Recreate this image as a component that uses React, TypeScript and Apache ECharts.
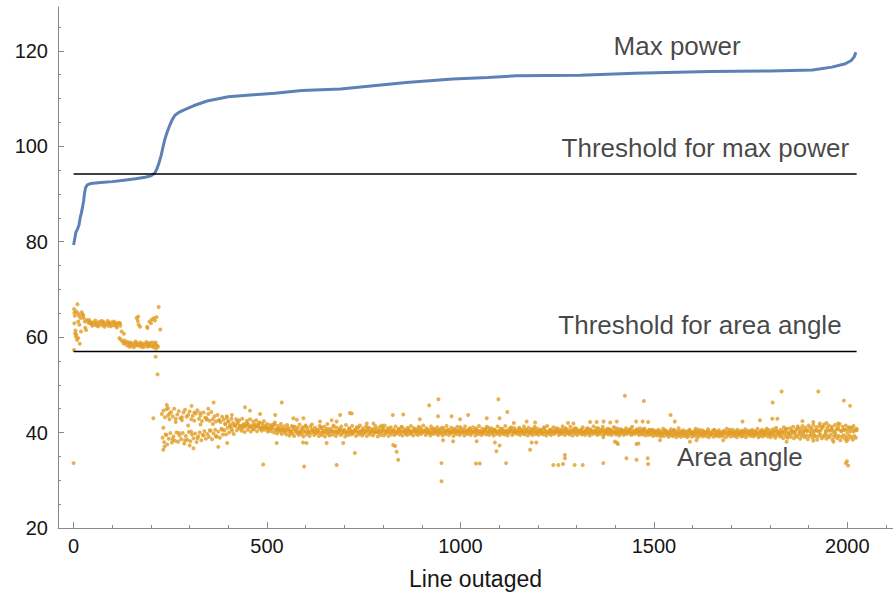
import React, { useEffect, useRef } from "react";
import * as echarts from "echarts";

const FONT = '"Liberation Sans", Arial, sans-serif';
const BLUE = "#5E81B5";
const ORANGE = "#E19C24";
const AXIS = "#8a8a8a";
const TEXT = "#161616";

// Axis extent (x: index of the outaged line, y: value)
const X_MIN = -40.3;
const X_MAX = 2118;
const Y_MIN = 20;
const Y_MAX = 129.2;

const xMajorTicks = [0, 500, 1000, 1500, 2000];
const xMinorTicks = [100, 200, 300, 400, 600, 700, 800, 900, 1100, 1200, 1300, 1400, 1600, 1700, 1800, 1900, 2100];
const yMajorTicks = [20, 40, 60, 80, 100, 120];
const yMinorTicks = [25, 30, 35, 45, 50, 55, 65, 70, 75, 85, 90, 95, 105, 110, 115, 125];

// Max power, sorted ascending over the outaged lines
const maxPower: [number, number][] = [
  [0, 79.3], [2, 80.2], [6, 82.0], [10, 82.6], [14, 83.5], [17, 85.0], [20, 86.0], [23, 87.2],
  [26, 88.6], [28, 90.0], [31, 91.3], [35, 91.9], [45, 92.2], [70, 92.4], [100, 92.6], [130, 92.9],
  [160, 93.2], [185, 93.5], [200, 93.8], [210, 94.4], [216, 95.4], [221, 96.6], [226, 98.0],
  [231, 99.8], [236, 101.5], [242, 103.0], [248, 104.3], [255, 105.6], [262, 106.5], [272, 107.1],
  [290, 107.8], [310, 108.5], [345, 109.5], [400, 110.4], [465, 110.8], [520, 111.1], [590, 111.7],
  [690, 112.0], [775, 112.7], [860, 113.4], [980, 114.1], [1070, 114.4], [1145, 114.8], [1310, 114.9],
  [1450, 115.3], [1645, 115.7], [1800, 115.8], [1910, 116.0], [1960, 116.6], [1995, 117.3],
  [2010, 118.0], [2018, 118.8], [2022, 119.7],
];

// Area angle for the first outaged lines (before the jump in max power)
const areaAngleEarly: [number, number][] = [
  [0, 33.6], [1, 57.3], [1, 65.9], [2, 65.1], [3, 64.5], [2, 62.9], [4, 60.8], [7, 60.5], [6, 60.1],
  [12, 59.8], [16, 58.6], [10, 66.9], [7, 65.4], [11, 65.0], [14, 64.5], [18, 64.0], [12, 63.3],
  [21, 65.2], [23, 64.8], [25, 64.6], [26, 64.0], [29, 63.3], [32, 61.5], [30, 62.0], [34, 63.6],
  [38, 63.0], [42, 63.3], [46, 62.8], [50, 63.1], [54, 62.6], [58, 63.0], [62, 62.7], [66, 63.2],
  [70, 62.8], [74, 62.5], [78, 63.0], [82, 62.6], [86, 62.9], [90, 62.4], [94, 62.8], [98, 63.1],
  [102, 62.5], [106, 62.8], [110, 62.3], [113, 62.7], [117, 63.0], [121, 62.4], [124, 61.2],
  [130, 60.7], [118, 59.8], [122, 59.5], [126, 59.1], [130, 58.6], [134, 58.9], [138, 58.3],
  [142, 58.7], [146, 58.5], [150, 58.1], [154, 58.6], [158, 58.3], [162, 58.8], [166, 58.2],
  [170, 58.5], [174, 58.0], [178, 58.7], [182, 58.3], [186, 58.6], [190, 58.0], [194, 58.4],
  [198, 58.8], [202, 58.2], [206, 57.9], [210, 58.5], [213, 57.6], [216, 58.2], [167, 64.3],
  [166, 63.4], [172, 62.2], [191, 61.9], [196, 63.3], [202, 63.7], [208, 64.0], [215, 64.2],
  [220, 66.3], [224, 61.6], [212, 55.9], [217, 52.2], [163, 64.0], [168, 62.6], [190, 62.2],
  [200, 62.9], [210, 63.5],
  [40, 63.6], [48, 62.4], [56, 63.5], [64, 62.3], [72, 63.4], [80, 62.2], [88, 63.4], [96, 62.3],
  [104, 63.3], [112, 62.0], [120, 62.9], [44, 62.9], [60, 62.4], [76, 63.3], [92, 63.0], [108, 63.0],
  [132, 59.3], [140, 59.0], [148, 58.9], [156, 57.9], [164, 58.4], [172, 58.9], [180, 57.9],
  [188, 59.0], [196, 58.1], [204, 58.9], [212, 58.9], [218, 58.0], [144, 58.0], [160, 59.1],
  [176, 58.2], [192, 58.7], [208, 58.3], [5, 61.4], [9, 59.4], [19, 61.2], [15, 62.6],
];

const bandStep = 4;

// Area angle, dense band: values for lines 228, 232, 236, ...
const bandStartA = 228;
const areaBandA = [
  43.9, 44.6, 43.2, 44.9, 43.6, 42.8, 44.3, 43.4, 45.0, 42.9,
  43.8, 44.5, 43.0, 42.6, 44.2, 44.8, 43.3, 43.7, 44.4, 42.8,
  43.5, 42.5, 44.0, 44.7, 42.9, 43.6, 42.4, 44.2, 43.1, 42.7,
  43.9, 42.5, 44.3, 42.8, 43.4, 42.3, 43.7, 42.6, 42.2, 43.3,
  42.7, 41.8, 43.1, 42.3, 41.6, 42.9, 42.0, 41.5, 42.8, 41.9,
  42.6, 41.4, 42.9, 41.8, 41.3, 42.5, 41.7, 42.8, 41.2, 42.3,
  41.7, 42.6, 41.2, 42.0, 41.0, 41.9, 42.4, 41.1, 41.8, 40.9,
  41.6, 40.8, 41.7, 42.1, 40.7, 41.4, 40.6, 41.8, 40.5, 41.3,
  40.6, 41.6, 40.9, 40.4, 41.4, 40.7, 41.2, 40.3, 41.0, 41.7,
  40.5, 41.1, 40.3, 41.5, 40.8, 40.2, 41.3, 41.7, 40.4, 41.0,
  40.6, 40.2, 41.4, 40.9, 40.3, 41.2, 40.5, 41.8, 40.2, 40.8,
  40.4, 41.5, 40.3, 41.0, 40.1, 40.7, 41.3, 40.3, 40.6, 41.6,
  40.2, 40.8, 40.5, 41.4, 40.1, 40.6, 41.1, 40.3, 41.5, 40.4,
  40.9, 40.2, 41.3, 40.5, 41.0, 40.1, 40.7, 40.3, 41.4, 40.8,
  40.3, 41.2, 40.2, 40.6, 41.5, 40.4, 40.9, 40.1, 41.1, 40.3,
  40.6, 41.3, 40.2, 40.8, 40.4, 41.2, 40.3, 40.7, 40.1, 41.0,
  40.5, 41.4, 40.3, 40.9, 40.2, 40.7, 41.2, 40.3, 40.6, 41.5,
  40.3, 40.9, 40.2, 40.6, 41.3, 40.2, 40.8, 40.5, 41.1, 40.3,
  40.7, 40.2, 40.9, 40.4, 41.4, 40.5, 40.2, 41.0, 40.6, 40.1,
  40.5, 41.2, 40.2, 40.8, 40.3, 40.7, 41.3, 40.1, 40.5, 40.9,
  40.3, 41.1, 40.2, 40.6, 40.4, 41.4, 40.1, 40.8, 40.3, 40.7,
  41.2, 40.2, 40.5, 40.9, 40.1, 40.6, 40.3, 41.3, 40.4, 40.2,
  40.8, 40.3, 41.4, 40.5, 40.1, 40.7, 41.1, 40.2, 40.9, 40.4,
  40.3, 40.8, 40.1, 40.6, 41.3, 40.3, 40.5, 41.0, 40.2, 40.7,
  40.4, 41.2, 40.2, 40.8, 40.3, 40.6, 40.1, 40.9, 40.4, 41.4,
  40.2, 40.6, 40.3, 41.1, 40.4, 40.1, 40.8, 40.3, 40.6, 41.3,
  40.3, 40.9, 40.2, 40.5, 41.2, 40.1, 40.7, 40.3, 40.8, 40.4,
  40.2, 40.6, 41.1, 40.3, 40.5, 40.9, 40.1, 40.7, 40.3, 41.3,
  40.4, 40.2, 40.9, 40.3, 40.6, 41.2, 40.2, 40.5, 40.8, 40.1,
  40.6, 40.3, 41.1, 40.2, 40.5, 40.8, 40.3, 40.7, 40.1, 40.4,
  40.9, 40.3, 40.6, 40.2, 41.2, 40.4, 40.1, 40.7, 40.3, 40.9,
  40.2, 40.5, 40.8, 40.3, 40.1, 40.6, 40.2, 40.5, 40.0, 40.4,
  40.1, 40.6, 39.9, 40.3, 40.8, 40.0, 40.4, 39.8, 40.2, 40.7,
  40.0, 40.4, 39.9, 40.3, 40.9, 39.8, 40.2, 40.5, 40.0, 40.3,
  39.9, 40.6, 40.1, 39.8, 40.3, 40.8, 40.0, 40.2, 39.9, 40.5,
  40.3, 39.9, 40.1, 40.7, 40.0, 39.8, 40.4, 40.6, 39.9, 40.2,
  40.5, 40.0, 39.8, 40.3, 40.1, 40.8, 39.9, 40.3, 40.0, 40.6,
  39.9, 40.2, 40.6, 40.0, 40.3, 39.8, 40.1, 40.7, 40.0, 40.4,
  40.1, 39.9, 40.5, 40.0, 40.3, 40.8, 39.9, 40.2, 40.6, 40.0,
  40.3, 40.8, 40.0, 40.5, 39.9, 40.7, 40.1, 41.0, 40.3, 40.0,
  40.6, 40.1, 41.1, 40.3, 40.8, 39.9, 40.9, 40.4, 41.2, 40.1,
  40.7, 41.3, 40.2, 40.8, 41.4, 40.3, 41.0, 40.5, 41.5, 40.2,
  40.8, 41.6, 40.4, 41.1, 40.3, 41.4, 40.6, 41.2, 41.7, 40.4,
  41.0, 41.5, 40.5, 41.2, 40.3, 41.6, 40.7, 41.1, 41.8, 40.4,
  41.2, 40.6, 41.5, 40.7, 41.1, 40.3, 40.9, 41.4, 40.5, 40.8,
];

// Area angle, dense band: values for lines 230, 234, 238, ...
const bandStartB = 230;
const areaBandB = [
  38.9, 38.0, 39.6, 37.5, 38.7, 39.9, 37.9, 39.2, 38.3, 40.0,
  38.1, 39.4, 38.6, 39.9, 37.7, 39.3, 38.5, 40.1, 38.2, 39.6,
  38.8, 39.8, 38.0, 39.2, 40.0, 38.4, 39.5, 40.3, 38.7, 39.7,
  39.1, 40.4, 38.6, 39.8, 40.6, 39.2, 40.2, 38.9, 40.8, 39.6,
  40.5, 39.6, 41.0, 40.0, 41.3, 40.4, 39.7, 41.4, 40.5, 40.9,
  41.4, 40.4, 41.0, 40.1, 41.6, 40.6, 41.2, 40.2, 41.5, 40.7,
  41.2, 40.3, 41.5, 40.8, 40.4, 41.3, 40.6, 41.0, 40.2, 40.9,
  40.3, 41.0, 40.0, 40.6, 39.8, 40.8, 40.2, 39.7, 40.6, 40.0,
  39.6, 40.4, 39.4, 40.2, 39.8, 39.3, 40.3, 39.9, 39.5, 40.1,
  39.7, 39.2, 40.2, 39.6, 40.0, 39.3, 39.9, 40.4, 39.5, 39.8,
  40.1, 39.3, 39.9, 39.5, 40.3, 39.2, 40.0, 39.7, 39.4, 40.2,
  39.6, 40.1, 39.3, 39.9, 40.3, 39.5, 39.8, 40.2, 39.2, 40.0,
  39.5, 40.1, 39.6, 39.8, 40.3, 39.3, 40.0, 39.6, 40.2, 39.4,
  39.8, 40.1, 39.3, 40.0, 39.6, 40.2, 39.4, 39.9, 40.1, 39.2,
  39.9, 39.5, 40.2, 39.4, 39.8, 40.1, 39.3, 40.0, 39.6, 40.3,
  39.5, 39.9, 40.2, 39.6, 40.0, 39.4, 40.2, 39.8, 39.5, 40.1,
  39.7, 40.0, 39.4, 40.3, 39.8, 39.5, 40.1, 39.7, 40.0, 40.3,
  39.5, 39.9, 40.2, 39.4, 40.0, 39.7, 40.3, 39.8, 39.5, 40.1,
  39.8, 39.4, 40.0, 39.7, 40.3, 39.5, 39.9, 40.2, 39.3, 40.0,
  39.7, 40.2, 39.5, 39.9, 40.3, 39.4, 40.0, 39.7, 40.1, 39.5,
  39.9, 40.3, 39.4, 40.0, 39.7, 40.1, 39.5, 39.8, 40.3, 39.6,
  40.0, 39.5, 40.2, 39.8, 39.4, 40.2, 39.7, 40.0, 39.5, 40.1,
  39.8, 39.6, 40.2, 39.4, 40.0, 40.3, 39.5, 39.9, 40.1, 39.7,
  40.0, 39.5, 40.3, 39.8, 39.6, 40.1, 39.4, 40.0, 39.8, 39.5,
  40.1, 39.7, 39.9, 39.5, 40.2, 39.8, 39.6, 40.1, 39.4, 40.0,
  39.8, 39.5, 40.1, 39.7, 40.0, 40.3, 39.5, 39.9, 39.7, 40.1,
  39.5, 40.0, 39.8, 39.6, 40.2, 39.4, 40.0, 39.8, 39.5, 40.2,
  39.8, 39.6, 40.0, 39.5, 40.1, 39.8, 39.4, 40.0, 39.7, 40.1,
  39.8, 39.5, 40.0, 39.7, 40.2, 39.5, 39.8, 40.1, 39.6, 40.0,
  39.5, 39.8, 40.1, 39.6, 39.9, 39.4, 39.8, 40.1, 39.5, 39.9,
  39.7, 40.1, 39.8, 39.5, 40.0, 39.7, 40.2, 39.8, 39.5, 39.9,
  39.6, 39.9, 39.4, 40.0, 39.5, 39.8, 39.6, 39.3, 39.9, 39.5,
  39.4, 39.8, 39.2, 39.7, 39.3, 39.9, 39.5, 39.1, 39.7, 39.4,
  39.3, 39.7, 39.0, 39.6, 39.4, 39.1, 39.7, 39.3, 39.6, 39.0,
  39.4, 39.8, 39.1, 39.6, 39.3, 39.7, 39.0, 39.5, 39.6, 39.2,
  39.7, 39.3, 39.6, 39.0, 39.5, 39.8, 39.1, 39.6, 39.3, 39.5,
  39.2, 39.6, 39.3, 39.8, 39.0, 39.5, 39.7, 39.2, 39.8, 39.3,
  39.6, 39.0, 39.5, 39.8, 39.2, 39.3, 39.7, 39.0, 39.5, 39.8,
  39.3, 39.6, 39.2, 39.5, 39.8, 39.0, 39.3, 39.7, 39.2, 39.5,
  39.8, 39.2, 39.5, 39.0, 39.7, 39.4, 38.9, 39.5, 39.8, 39.2,
  39.4, 38.8, 39.7, 39.2, 38.9, 39.6, 39.1, 39.8, 38.8, 39.4,
  39.1, 39.6, 38.7, 39.3, 39.7, 39.0, 39.4, 38.6, 39.3, 39.6,
  38.9, 39.5, 39.2, 38.5, 39.3, 39.6, 38.8, 39.2, 39.5, 38.7,
  39.3, 39.0, 39.6, 38.5, 39.2, 39.5, 38.8, 39.3, 38.4, 39.1,
  39.5, 38.7, 39.2, 38.6, 39.4, 39.0, 38.5, 39.3, 38.9,
];

// Area angle, dense band: values for lines 232, 240, 248, ...
const bandStartC = 232;
const bandStepC = 8;
const areaBandC = [
  41.0, 39.5, 44.0, 38.6, 42.2, 39.9, 43.2, 38.4, 41.5, 40.2,
  44.2, 38.8, 41.7, 39.4, 43.0, 40.5, 41.8, 39.2, 42.6, 40.6,
  41.8, 42.4, 40.8, 41.6, 42.2, 40.9, 41.5, 42.0, 41.2, 40.7,
  41.6, 42.1, 40.9, 41.4, 40.6, 41.2, 41.7, 40.5, 41.0, 40.4,
  40.8, 39.9, 41.2, 40.5, 40.0, 40.9, 41.3, 40.2, 40.7, 40.1,
  40.6, 41.1, 40.0, 40.8, 40.3, 41.2, 40.1, 40.7, 40.4, 39.9,
  40.9, 40.2, 40.6, 41.1, 40.0, 40.5, 40.9, 40.3, 40.7, 40.1,
  40.5, 41.0, 40.2, 40.8, 40.4, 39.9, 40.6, 41.1, 40.3, 40.6,
  40.1, 40.7, 40.4, 41.0, 40.2, 40.6, 39.9, 40.8, 40.3, 40.5,
  41.0, 40.2, 40.6, 40.0, 40.8, 40.4, 41.1, 40.1, 40.5, 40.7,
  40.2, 40.9, 40.4, 40.0, 40.7, 41.0, 40.3, 40.6, 40.1, 40.8,
  40.4, 40.0, 40.9, 40.5, 40.2, 41.0, 40.3, 40.7, 40.1, 40.6,
  40.8, 40.2, 40.5, 41.1, 40.0, 40.6, 40.3, 40.9, 40.2, 40.5,
  40.7, 40.1, 40.4, 40.9, 40.2, 40.6, 40.0, 40.8, 40.4, 40.3,
  40.9, 40.2, 40.6, 40.0, 40.7, 40.3, 41.0, 40.1, 40.5, 40.4,
  40.2, 40.8, 40.0, 40.5, 40.3, 40.7, 40.1, 40.4, 40.6, 39.9,
  40.2, 39.7, 40.5, 39.9, 40.1, 40.6, 39.8, 40.3, 40.0, 39.6,
  40.4, 39.9, 40.2, 40.6, 39.7, 40.1, 40.3, 39.8, 40.5, 40.0,
  39.8, 40.3, 40.0, 40.6, 39.9, 40.2, 39.7, 40.4, 40.1, 39.9,
  40.5, 40.0, 39.8, 40.3, 40.1, 40.6, 39.9, 40.2, 40.4, 39.8,
  40.2, 40.7, 39.9, 40.4, 40.1, 40.9, 40.0, 40.5, 40.3, 41.0,
  40.1, 40.6, 40.2, 41.1, 39.9, 40.4, 40.8, 40.0, 40.7, 40.3,
  40.6, 40.0, 41.0, 40.2, 40.5,
];

// Area angle, points lying off the dense band
const areaAngleSpread: [number, number][] = [
  [206, 43.0], [241, 45.8], [244, 45.1], [305, 45.6], [327, 44.1], [348, 45.0], [362, 46.3],
  [396, 43.4], [409, 43.7], [443, 45.3], [456, 44.6], [482, 43.9], [521, 43.7], [538, 46.3],
  [568, 43.0], [577, 42.7], [594, 43.0], [637, 42.3], [667, 42.6], [680, 42.3], [689, 43.7],
  [714, 44.1], [719, 44.0], [758, 41.9], [775, 41.9], [797, 41.5],
  [232, 36.4], [235, 37.1], [310, 36.7], [300, 37.3], [374, 37.0], [397, 37.8], [525, 37.8],
  [593, 37.9], [602, 37.8], [654, 37.8], [697, 37.8], [727, 35.7], [490, 33.3], [596, 32.9],
  [680, 33.2], [839, 34.3], [831, 37.2],
  [825, 43.7], [852, 43.8], [895, 42.8], [919, 45.7], [943, 47.0], [942, 43.4], [977, 43.4],
  [999, 42.8], [1020, 43.7], [1068, 43.0], [1098, 47.0], [1101, 43.0], [1121, 44.3], [1138, 42.0],
  [1171, 42.3], [1193, 42.1], [1278, 42.0], [1292, 41.9], [1335, 42.2], [1352, 42.2], [1370, 42.3],
  [1387, 42.1], [1404, 42.3], [1425, 47.7], [1474, 46.6], [1454, 42.3], [1471, 42.3], [1485, 42.2],
  [826, 37.4], [835, 36.0], [955, 38.4], [981, 38.2], [1042, 38.2], [1089, 37.9], [1093, 36.1],
  [1101, 37.3], [1180, 36.4], [1184, 37.9], [1196, 37.9], [1369, 39.0], [1404, 37.9], [1407, 37.6],
  [1455, 37.6],
  [951, 33.6], [951, 29.8], [1040, 33.5], [1050, 33.5], [1118, 33.6], [1240, 33.2], [1253, 33.2],
  [1265, 33.4], [1270, 35.3], [1270, 34.6], [1295, 33.2], [1316, 33.2], [1369, 33.6], [1429, 34.6],
  [1455, 34.3], [1484, 34.6], [1485, 33.4],
  [1543, 43.7], [1554, 42.3], [1729, 42.3], [1774, 42.6], [1807, 46.3], [1806, 42.9], [1819, 42.9],
  [1830, 48.6], [1884, 42.4], [1912, 42.2], [1929, 41.9], [1925, 48.6], [1946, 42.0], [1976, 41.9],
  [1991, 46.7], [2007, 45.6],
  [1399, 38.1], [1460, 37.7], [1516, 38.4], [1593, 38.1], [1610, 38.4], [1679, 38.4], [1843, 38.1],
  [1912, 38.3], [1964, 38.1], [1998, 38.2],
  [1996, 33.6], [2002, 33.1], [1999, 34.0],
];

// Thresholds, drawn across the outaged lines
const maxPowerThreshold = 94.2;
const areaAngleThreshold = 57.0;
const thresholdSpan = [0, 2024];

// Annotations placed in data coordinates
const annotations = [
  { text: "Max power", x: 1560, y: 121.0 },
  { text: "Threshold for max power", x: 1633, y: 99.6 },
  { text: "Threshold for area angle", x: 1619, y: 62.6 },
  { text: "Area angle", x: 1722, y: 34.9 },
];

function buildOption(): echarts.EChartsOption {
  const areaAngle: [number, number][] = [
    ...areaAngleEarly,
    ...areaBandA.map((v, i) => [bandStartA + i * bandStep, v] as [number, number]),
    ...areaBandB.map((v, i) => [bandStartB + i * bandStep, v] as [number, number]),
    ...areaBandC.map((v, i) => [bandStartC + i * bandStepC, v] as [number, number]),
    ...areaAngleSpread,
  ];

  const tickLabel = {
    fontSize: 20,
    color: TEXT,
    fontFamily: FONT,
    formatter: (v: number) => String(v),
  };
  const axisLine = { show: true, onZero: false, lineStyle: { color: AXIS, width: 1 } };

  const thresholdLine = (y: number) => ({
    type: "line" as const,
    data: thresholdSpan.map((x) => [x, y]),
    showSymbol: false,
    silent: true,
    lineStyle: { color: "#000", width: 1.5 },
    z: 4,
  });

  return {
    animation: false,
    backgroundColor: "#fff",
    grid: { left: 58, right: 0, top: 7, bottom: 69, containLabel: false, outerBoundsMode: "none" } as any,
    xAxis: [
      {
        type: "value",
        min: X_MIN,
        max: X_MAX,
        position: "bottom",
        axisLine,
        axisTick: { show: true, inside: true, length: 6, customValues: xMajorTicks, lineStyle: { color: AXIS } },
        axisLabel: { ...tickLabel, margin: 8, customValues: xMajorTicks },
        splitLine: { show: false },
        name: "Line outaged",
        nameLocation: "middle",
        nameGap: 39,
        nameTextStyle: { fontSize: 23, color: TEXT, fontFamily: FONT },
      } as any,
      {
        type: "value",
        min: X_MIN,
        max: X_MAX,
        position: "bottom",
        axisLine: { show: false, onZero: false },
        axisTick: { show: true, inside: true, length: 3, customValues: xMinorTicks, lineStyle: { color: AXIS } },
        axisLabel: { show: false },
        splitLine: { show: false },
      } as any,
    ],
    yAxis: [
      {
        type: "value",
        min: Y_MIN,
        max: Y_MAX,
        position: "left",
        axisLine,
        axisTick: { show: true, inside: true, length: 6, customValues: yMajorTicks, lineStyle: { color: AXIS } },
        axisLabel: { ...tickLabel, margin: 10, customValues: yMajorTicks },
        splitLine: { show: false },
      } as any,
      {
        type: "value",
        min: Y_MIN,
        max: Y_MAX,
        position: "left",
        axisLine: { show: false, onZero: false },
        axisTick: { show: true, inside: true, length: 3, customValues: yMinorTicks, lineStyle: { color: AXIS } },
        axisLabel: { show: false },
        splitLine: { show: false },
      } as any,
    ],
    series: [
      {
        name: "Area angle",
        type: "scatter",
        data: areaAngle,
        symbol: "circle",
        symbolSize: 4,
        itemStyle: { color: ORANGE },
        silent: true,
        z: 2,
      },
      {
        name: "Max power",
        type: "line",
        data: maxPower,
        showSymbol: false,
        lineStyle: { color: BLUE, width: 3 },
        silent: true,
        z: 3,
      },
      thresholdLine(maxPowerThreshold),
      thresholdLine(areaAngleThreshold),
      {
        type: "scatter",
        symbolSize: 0,
        silent: true,
        data: annotations.map((a) => ({ name: a.text, value: [a.x, a.y] })),
        label: {
          show: true,
          position: "inside",
          formatter: "{b}",
          fontSize: 26,
          color: TEXT,
          fontFamily: FONT,
        },
        z: 5,
      },
    ],
  } as echarts.EChartsOption;
}

export default function App() {
  const ref = useRef<HTMLDivElement>(null);
  useEffect(() => {
    if (!ref.current) return;
    const chart = echarts.init(ref.current, null, { renderer: "svg" });
    chart.setOption(buildOption());
    return () => chart.dispose();
  }, []);
  return (
    <div
      ref={ref}
      style={{ position: "absolute", left: 0, top: 0, width: 893, height: 597, background: "#fff" }}
    />
  );
}
